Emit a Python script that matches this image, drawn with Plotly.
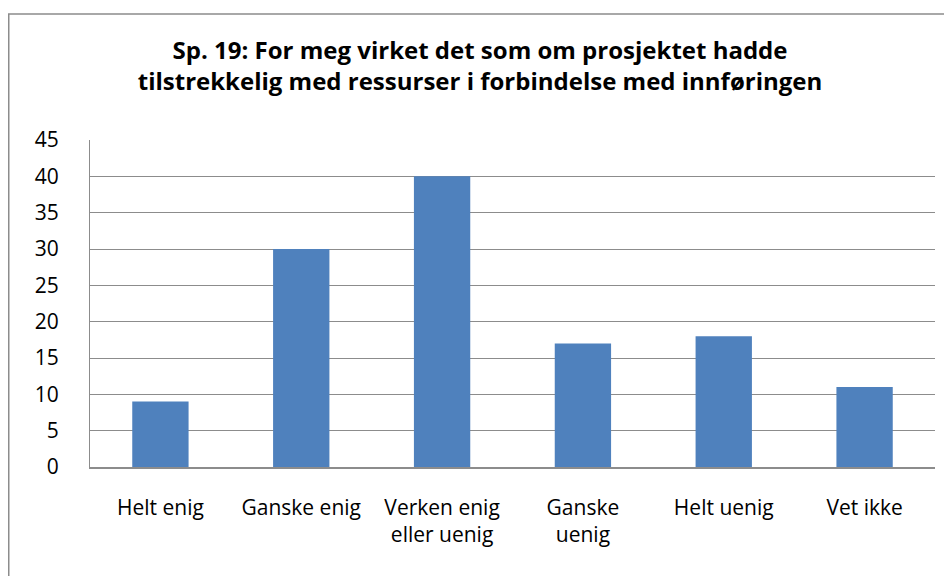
import plotly.graph_objects as go

categories = ["Helt enig", "Ganske enig", "Verken enig<br>eller uenig", "Ganske<br>uenig", "Helt uenig", "Vet ikke"]
values = [9, 30, 40, 17, 18, 11]
y_ticks = [0, 5, 10, 15, 20, 25, 30, 35, 40, 45]
title_text = "Sp. 19: For meg virket det som om prosjektet hadde<br>tilstrekkelig med ressurser i forbindelse med innføringen"

# page body has an 8px margin; figure sized to fit inside the window
W, H = 944, 568
L, R, T, B = 82, 17, 132, 109
pw, ph = W - L - R, H - T - B

def px_x(px):
    return (px - L) / pw

def px_y(py):
    return (H - B - py) / ph

font = "Open Sans, Liberation Sans, sans-serif"

fig = go.Figure(go.Bar(
    x=categories, y=values,
    marker=dict(color="#4F81BD", line=dict(width=0)),
    width=0.4,
))

fig.update_layout(
    width=W, height=H,
    margin=dict(l=L, r=R, t=T, b=B),
    paper_bgcolor="white", plot_bgcolor="white",
    showlegend=False,
    title=dict(text="<b>" + title_text + "</b>", x=0.5, xanchor="center",
               xref="container", y=(H - 51) / H, yanchor="middle", yref="container",
               font=dict(family=font, size=24, color="black")),
    font=dict(family=font, size=21, color="black"),
    bargap=0.6,
    shapes=[dict(type="rect", xref="paper", yref="paper",
                 x0=px_x(0.75), x1=px_x(1000), y0=px_y(620), y1=px_y(6),
                 line=dict(color="#8c8c8c", width=1.5), layer="below")],
)
fig.update_yaxes(range=[0, 45], tickvals=y_ticks, showgrid=True, gridcolor="#8c8c8c",
                 gridwidth=1.2, showline=True, linecolor="#8c8c8c", linewidth=1.2,
                 ticks="", ticklabelstandoff=26, zeroline=False,
                 tickfont=dict(family=font, size=21, color="black"))
fig.update_xaxes(showline=True, linecolor="#8c8c8c", linewidth=1.5, ticks="",
                 ticklabelstandoff=21, tickfont=dict(family=font, size=21, color="black"))

fig.write_html("out.html")
